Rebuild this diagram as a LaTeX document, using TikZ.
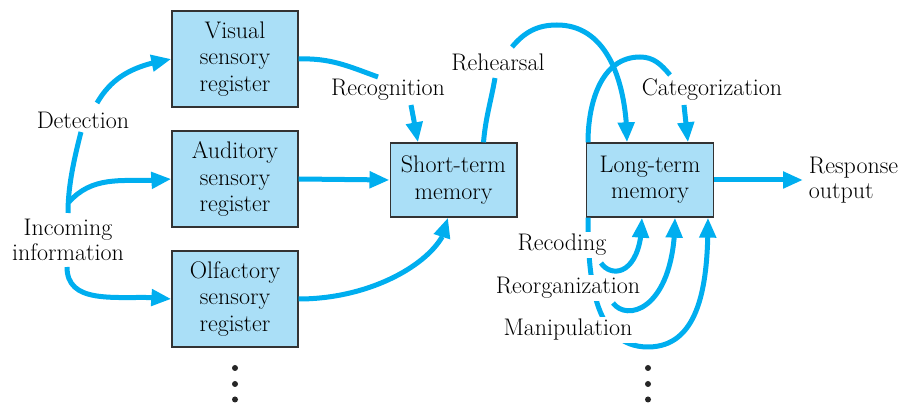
\documentclass[tikz,border=0pt]{standalone}
\usetikzlibrary{arrows.meta,calc,bending}
\definecolor{arr}{HTML}{00AEEF}
\definecolor{boxfill}{HTML}{AADFF7}
\begin{document}
\begin{tikzpicture}[x=0.75pt,y=0.75pt,
  box/.style={draw=black!80,line width=1pt,fill=boxfill,align=center,inner sep=0pt,font=\fontsize{18}{19.8}\selectfont},
  sbox/.style={box,minimum width=94.5pt,minimum height=72pt},
  mbox/.style={box,minimum width=95pt,minimum height=55.5pt},
  lbl/.style={fill=white,inner sep=2pt,align=center,font=\fontsize{18}{19}\selectfont},
  flow/.style={draw=arr,line width=3.75pt,-{Triangle[length=15pt,width=12pt]}},
  plain/.style={draw=arr,line width=3.75pt},
  dot/.style={circle,fill=black!85,inner sep=0pt,minimum size=4.5pt}]
\useasboundingbox (0,0) rectangle (904,403);

% boxes
\node[sbox] (vis) at (235,344) {Visual\\sensory\\register};
\node[sbox] (aud) at (235,224) {Auditory\\sensory\\register};
\node[sbox] (olf) at (235,104) {Olfactory\\sensory\\register};
\node[mbox] (stm) at (453.5,223) {Short-term\\memory};
\node[mbox] (ltm) at (650,223) {Long-term\\memory};

% big loop below long-term memory (masked by labels)
\draw[flow] ($(ltm.south west)+(2,0)$) to[out=-90,in=180] (648,56) to[out=0,in=-90] ($(ltm.south east)+(-6,0)$);

% labels
\node[lbl] (det) at (83,283) {Detection};
\node[lbl] (inc) at (68,163) {Incoming\\information};
\node[lbl] (rec) at (388,313) {Recognition};
\node[lbl] (reh) at (498,341) {Rehearsal};
\node[lbl] (cat) at (712,313) {Categorization};
\node[lbl,anchor=west,align=left] (resp) at (806,223) {Response\\output};
\node[lbl] (rcd) at (562,158) {Recoding};
\node[lbl] (reo) at (568,115) {Reorganization};
\node[lbl] (man) at (568,73) {Manipulation};

% sensory inputs
\coordinate (detlo) at (81,271);
\coordinate (dethi) at (97,300);
\coordinate (inctop) at (68,190);
\coordinate (incbot) at (67,136);
\draw[flow] (dethi) to[out=60,in=190] (vis.west);
\draw[plain] (detlo) .. controls (73,240) and (68,215) .. (inctop);
\draw[flow] (69,201) to[out=48,in=187] (aud.west);
\draw[flow] (incbot) to[out=-90,in=172] (olf.west);

% to short-term memory
\coordinate (recin) at (378,326);
\coordinate (recout) at (411,298);
\draw[plain] (vis.east) to[out=2,in=160] (recin);
\draw[flow] (recout) -- ($(stm.north)+(-35.5,0)$);
\draw[flow] (aud.east) -- (stm.west);
\draw[flow] (olf.east) .. controls (381,104) and (448,150) .. ($(stm.south)+(-5.5,0)$);

% rehearsal
\coordinate (rehin) at (495,325);
\coordinate (rehout) at (512,356);
\draw[plain] ($(stm.north)+(30,0)$) to[out=85,in=-100] (rehin);
\draw[flow] (rehout) to[out=50,in=180] (557,378) to[out=0,in=90] ($(ltm.north)+(-23,0)$);

% categorization
\coordinate (catin) at (670,328);
\coordinate (catout) at (684,298);
\draw[plain] ($(ltm.north west)+(2,0)$) to[out=90,in=180] (640,346) to[out=0,in=130] (catin);
\draw[flow] (catout) -- ($(ltm.north)+(38,0)$);

% output
\coordinate (outtip) at (803,223);
\draw[flow] (ltm.east) -- (outtip);

% recoding / reorganization branches
\draw[flow] (601,140) .. controls (612,124) and (642,128) .. ($(ltm.south)+(-8,0)$);
\draw[flow] (613,100) .. controls (628,80) and (675,95) .. ($(ltm.south)+(25,0)$);

% dots
\node[dot] (a1) at (235,35) {};
\node[dot] (a2) at (235,19) {};
\node[dot] (a3) at (235,3.5) {};
\node[dot] (b1) at (648,35) {};
\node[dot] (b2) at (648,19) {};
\node[dot] (b3) at (648,3.5) {};
\end{tikzpicture}
\end{document}
